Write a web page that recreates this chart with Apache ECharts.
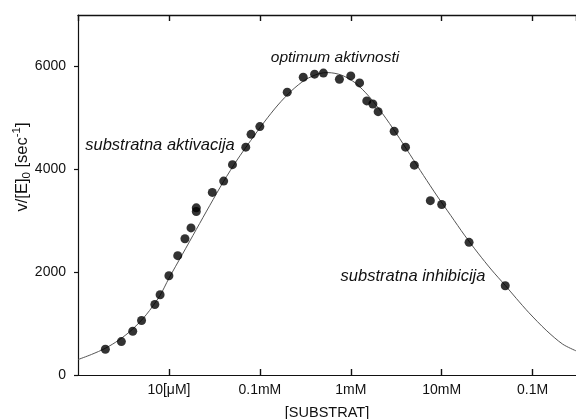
<!DOCTYPE html>
<html>
<head>
<meta charset="utf-8">
<script src="https://cdn.jsdelivr.net/npm/echarts@6/dist/echarts.min.js"></script>
<style>
html,body{margin:0;padding:0;background:#fff;}
#chart{width:576px;height:419px;}
</style>
</head>
<body>
<div id="chart"></div>
<script>
// Measured points: substrate concentration [M] and rate v/[E]0 [sec^-1]
const substrateM = [2e-6,3e-6,4e-6,5e-6,7e-6,8e-6,1e-5,1.25e-5,1.5e-5,1.75e-5,2e-5,2e-5,3e-5,4e-5,5e-5,7e-5,8e-5,1e-4,2e-4,3e-4,4e-4,5e-4,7.5e-4,1e-3,1.25e-3,1.5e-3,1.75e-3,2e-3,3e-3,4e-3,5e-3,7.5e-3,1e-2,2e-2,5e-2];
const rates = [500,650,850,1060,1370,1560,1930,2320,2650,2860,3180,3250,3550,3770,4090,4430,4680,4830,5500,5790,5850,5870,5750,5815,5680,5330,5270,5120,4740,4430,4080,3390,3315,2580,1735];

// Fitted curve
const curveM = [1.0e-6,1.41e-6,2.0e-6,2.82e-6,3.98e-6,5.62e-6,7.94e-6,1.0e-5,1.41e-5,2.0e-5,2.82e-5,3.98e-5,5.62e-5,7.94e-5,1.12e-4,1.58e-4,2.24e-4,3.16e-4,4.47e-4,5.62e-4,7.94e-4,1.12e-3,1.58e-3,2.24e-3,3.16e-3,4.47e-3,6.31e-3,8.91e-3,1.26e-2,1.78e-2,2.51e-2,3.55e-2,5.01e-2,6.61e-2,9.12e-2,0.141,0.214,0.3];
const curveV = [300,400,520,680,890,1170,1540,1880,2350,2830,3300,3760,4180,4560,4920,5250,5530,5740,5860,5880,5830,5680,5420,5080,4700,4290,3880,3480,3100,2720,2370,2040,1740,1490,1210,870,600,470];

// Axis ticks
const xTickExps = [-5,-4,-3,-2,-1];
const xTickLabels = ['10[\u03bcM]','0.1mM','1mM','10mM','0.1M'];
const yTicks = [0,2000,4000,6000];

const xMin = 1e-6, xMax = 0.3;
const yMin = 0, yMax = 7000, yStep = 2000;

const FONT = '"Liberation Sans", Arial, Helvetica, sans-serif';
const AX = '#111';

const chart = echarts.init(document.getElementById('chart'), null, {renderer:'canvas'});

function xLabel(v){
  const e = Math.round(Math.log10(v));
  const i = xTickExps.indexOf(e);
  return (i >= 0 && Math.abs(Math.log10(v) - e) < 1e-6) ? xTickLabels[i] : '';
}

const option = {
  backgroundColor: '#fff',
  animation: false,
  grid: {left: 78, right: 0, top: 15, bottom: 44, outerBoundsMode: 'none'},
  xAxis: [{
    type: 'log', logBase: 10, min: xMin, max: xMax, position: 'bottom',
    name: '[SUBSTRAT]', nameLocation: 'middle', nameGap: 30,
    nameTextStyle: {fontFamily: FONT, fontSize: 14.5, color: AX},
    axisLine: {show: true, onZero: false, lineStyle: {color: AX, width: 1.2}},
    axisTick: {show: true, inside: true, length: 6, lineStyle: {color: AX, width: 1.4}},
    axisLabel: {show: true, margin: 8, fontFamily: FONT, fontSize: 14, color: AX, formatter: xLabel, showMinLabel: false, showMaxLabel: false},
    splitLine: {show: false}
  },{
    type: 'log', logBase: 10, min: xMin, max: xMax, position: 'top',
    axisLine: {show: true, onZero: false, lineStyle: {color: AX, width: 1.4}},
    axisTick: {show: true, inside: true, length: 6, lineStyle: {color: AX, width: 1.4}},
    axisLabel: {show: false}, splitLine: {show: false}
  }],
  yAxis: [{
    type: 'value', min: yMin, max: yMax, interval: yStep,
    axisLine: {show: true, onZero: false, lineStyle: {color: AX, width: 1.2}},
    axisTick: {show: true, inside: false, length: 4, lineStyle: {color: AX, width: 1.2}},
    axisLabel: {show: true, margin: 12, fontFamily: FONT, fontSize: 14, color: AX, showMaxLabel: false,
      formatter: function(v){ return yTicks.indexOf(v) >= 0 ? String(v) : ''; }},
    splitLine: {show: false}
  }],
  series: [{
    type: 'line', xAxisIndex: 1, yAxisIndex: 0,
    data: curveM.map((m,i)=>[m, curveV[i]]),
    smooth: 0.3, showSymbol: false, symbol: 'none',
    lineStyle: {color: '#555', width: 1}, z: 2, silent: true
  },{
    type: 'scatter', xAxisIndex: 0, yAxisIndex: 0,
    data: substrateM.map((m,i)=>[m, rates[i]]),
    symbol: 'circle', symbolSize: 9,
    itemStyle: {color: '#000'}, z: 3
  }],
  graphic: [{
    type: 'text', x: 22, y: 167, rotation: Math.PI/2,
    style: {
      text: 'v/[E]{sub|0} [sec{sup|-1}]',
      fontFamily: FONT, fontSize: 16.5, fill: AX,
      align: 'center', verticalAlign: 'middle', lineHeight: 22,
      rich: {
        sub: {fontFamily: FONT, fontSize: 11.5, fill: AX, verticalAlign: 'bottom', lineHeight: 12},
        sup: {fontFamily: FONT, fontSize: 11.5, fill: AX, verticalAlign: 'top', lineHeight: 12}
      }
    }
  },{
    type: 'text', x: 335, y: 58,
    style: {text: 'optimum aktivnosti', fontFamily: FONT, fontSize: 15.5, fontStyle: 'italic', fill: AX, align: 'center', verticalAlign: 'middle'}
  },{
    type: 'text', x: 160, y: 145,
    style: {text: 'substratna aktivacija', fontFamily: FONT, fontSize: 16.5, fontStyle: 'italic', fill: AX, align: 'center', verticalAlign: 'middle'}
  },{
    type: 'text', x: 413, y: 276,
    style: {text: 'substratna inhibicija', fontFamily: FONT, fontSize: 16.5, fontStyle: 'italic', fill: AX, align: 'center', verticalAlign: 'middle'}
  }]
};
chart.setOption(option);
</script>
</body>
</html>
